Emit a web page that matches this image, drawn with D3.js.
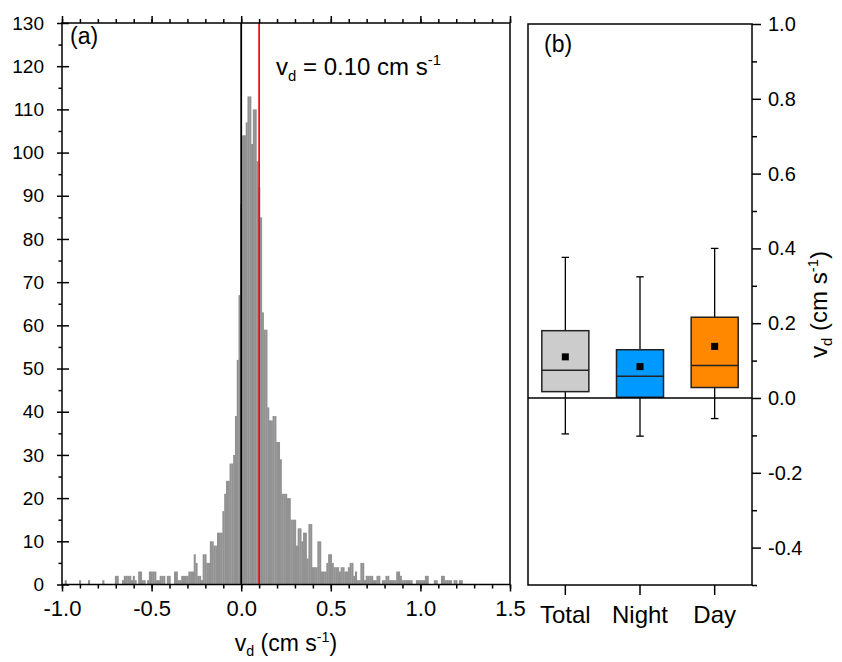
<!DOCTYPE html>
<html>
<head>
<meta charset="utf-8">
<script src="https://cdnjs.cloudflare.com/ajax/libs/d3/7.8.5/d3.min.js"></script>
<style>
	body { margin: 0; background: #fff; }
	text { font-family: "Liberation Sans", Arial, sans-serif; fill: #000; }
</style>
</head>
<body>
<script>

// histogram of v_d : 0.01 cm/s bins, first bin centred at -0.98
var bin_width = 0.01;
var bin_first = -0.98;
var bin_counts = [
	1,0,0,0,0,0,0,0,1,0,
	0,0,0,1,0,0,0,0,0,0,
	0,1,0,0,0,0,0,0,2,2,
	0,0,1,2,2,2,2,1,2,1,
	0,3,3,1,1,0,1,3,3,3,
	3,1,1,2,2,2,0,2,2,0,
	0,3,3,1,1,2,2,2,2,3,
	3,3,7,5,2,2,1,7,7,5,
	5,10,10,9,9,12,12,12,17,21,
	24,24,28,28,30,39,52,67,88,104,
	104,107,113,113,102,110,110,98,92,85,
	63,59,59,41,38,38,39,39,33,33,
	29,21,21,21,20,20,15,15,15,9,
	13,13,10,12,12,6,14,14,4,4,
	4,10,10,3,3,3,5,7,7,5,
	4,4,4,3,4,4,3,3,4,5,
	5,2,3,1,1,5,5,1,2,2,
	2,2,1,1,2,2,0,1,1,2,
	2,1,1,1,1,3,3,2,1,1,
	1,1,1,1,0,0,1,1,1,1,
	1,2,2,0,0,0,1,1,0,0,
	2,2,1,1,1,1,0,1,1,0,
	1,1
];
var vd_mean = 0.10;

// box plot (b)
var groups = ["Total", "Night", "Day"];
var whisker_low  = [-0.096, -0.102, -0.055];
var quart_low    = [0.017, 0.002, 0.028];
var medians      = [0.074, 0.058, 0.087];
var quart_high   = [0.180, 0.129, 0.216];
var whisker_high = [0.376, 0.324, 0.400];
var means        = [0.110, 0.084, 0.138];
var box_colours  = ["#cccccc", "#0099ff", "#ff8800"];

var x_ticks_a = [-1.0, -0.5, 0.0, 0.5, 1.0, 1.5];
var y_ticks_a = d3.range(0, 131, 10);
var y_ticks_b = [-0.4, -0.2, 0.0, 0.2, 0.4, 0.6, 0.8, 1.0];

var WIDTH = 842, HEIGHT = 662;
var pa = {left: 62, right: 510, top: 23, bottom: 584.5};
var pb = {left: 528, right: 752, top: 24, bottom: 585};
var BAR_GREY = "#929292";
var AXIS_W = 1.5;

var svg = d3.select("body").append("svg")
	.attr("width", WIDTH)
	.attr("height", HEIGHT);

svg.append("rect").attr("width", WIDTH).attr("height", HEIGHT).attr("fill", "#fff");

// write text with sub / superscripts
function rich(el, parts) {
	parts.forEach(function(p) {
		var t = el.append("tspan").attr("dy", p[1]).text(p[0]);
		if (p[2]) t.style("font-size", p[2]);
	});
	return el;
}
var VD_UNITS = [["v", 0], ["d", 5, "0.62em"], [" (cm s", -5], ["-1", -9, "0.62em"], [")", 9]];

function style_axis(g, size) {
	g.select(".domain").remove();
	g.selectAll("line").attr("stroke", "#000").attr("stroke-width", AXIS_W);
	g.selectAll("text").style("font-size", size + "px")
		.style("font-family", '"Liberation Sans", Arial, sans-serif');
}

// ---------------- panel (a) ----------------
var x = d3.scaleLinear().domain([-1, 1.5]).range([pa.left, pa.right]);
var y = d3.scaleLinear().domain([0, 130]).range([pa.bottom, pa.top]);

svg.append("g")
	.selectAll("rect")
	.data(bin_counts)
	.enter().append("rect")
	.attr("x", function(d, i) { return x(bin_first + i * bin_width - bin_width / 2); })
	.attr("width", x(bin_width) - x(0) + 0.3)
	.attr("y", function(d) { return y(d); })
	.attr("height", function(d) { return y(0) - y(d); })
	.attr("fill", BAR_GREY);

// zero and mean lines
svg.append("line")
	.attr("x1", x(0)).attr("x2", x(0))
	.attr("y1", y(0)).attr("y2", y(130))
	.attr("stroke", "#000").attr("stroke-width", 1.8);
svg.append("line")
	.attr("x1", x(vd_mean)).attr("x2", x(vd_mean))
	.attr("y1", y(0)).attr("y2", y(130))
	.attr("stroke", "#ff0000").attr("stroke-width", 1.7);

// bottom axis
var gx = svg.append("g")
	.attr("transform", "translate(0," + pa.bottom + ")")
	.call(d3.axisBottom(x).tickValues(x_ticks_a).tickSize(7).tickPadding(8.5)
		.tickFormat(function(d) { return d3.format(".1f")(d).replace("−", "-"); }));
style_axis(gx, 22);
var gxm = svg.append("g")
	.attr("transform", "translate(0," + pa.bottom + ")")
	.call(d3.axisBottom(x).tickValues(d3.range(-10, 16).map(function(d) { return d / 10; }))
		.tickSize(4).tickFormat(""));
style_axis(gxm, 10);

// top axis (mirror, no labels)
var gt = svg.append("g")
	.attr("transform", "translate(0," + pa.top + ")")
	.call(d3.axisTop(x).tickValues(x_ticks_a).tickSize(7).tickFormat(""));
style_axis(gt, 10);
var gtm = svg.append("g")
	.attr("transform", "translate(0," + pa.top + ")")
	.call(d3.axisTop(x).tickValues(d3.range(-10, 16).map(function(d) { return d / 10; }))
		.tickSize(4).tickFormat(""));
style_axis(gtm, 10);

// left axis, major ticks cross the axis line
var gy = svg.append("g")
	.attr("transform", "translate(" + pa.left + ",0)")
	.call(d3.axisLeft(y).tickValues(y_ticks_a).tickSize(5).tickPadding(13));
style_axis(gy, 19);
var gyi = svg.append("g")
	.attr("transform", "translate(" + pa.left + ",0)")
	.call(d3.axisRight(y).tickValues(y_ticks_a).tickSize(7).tickFormat(""));
style_axis(gyi, 10);
var gym = svg.append("g")
	.attr("transform", "translate(" + pa.left + ",0)")
	.call(d3.axisLeft(y).tickValues(d3.range(5, 130, 10)).tickSize(3.5).tickFormat(""));
style_axis(gym, 10);

svg.append("rect")
	.attr("x", pa.left).attr("y", pa.top)
	.attr("width", pa.right - pa.left).attr("height", pa.bottom - pa.top)
	.attr("fill", "none").attr("stroke", "#000").attr("stroke-width", AXIS_W);

svg.append("text").attr("x", 70).attr("y", 44).style("font-size", "23px").text("(a)");

rich(svg.append("text").attr("x", 276).attr("y", 75).style("font-size", "24px"),
	[["v", 0], ["d", 6, "0.62em"], [" = 0.10 cm s", -6], ["-1", -10, "0.62em"]]);

rich(svg.append("text")
	.attr("x", (pa.left + pa.right) / 2).attr("y", 651)
	.attr("text-anchor", "middle").style("font-size", "23px"), VD_UNITS);

// ---------------- panel (b) ----------------
var xb = d3.scaleBand().domain(groups).range([pb.left, pb.right]);
var yb = d3.scaleLinear().domain([-0.5, 1.0]).range([pb.bottom, pb.top]);
var box_w = xb.bandwidth() * 0.63;
var cap_w = 7.5;

var boxes = svg.append("g")
	.selectAll("g")
	.data(groups)
	.enter().append("g")
	.attr("transform", function(d) { return "translate(" + (xb(d) + xb.bandwidth() / 2) + ",0)"; });

boxes.append("line")
	.attr("y1", function(d, i) { return yb(whisker_low[i]); })
	.attr("y2", function(d, i) { return yb(whisker_high[i]); })
	.attr("stroke", "#000").attr("stroke-width", 1.3);
[whisker_low, whisker_high].forEach(function(arr) {
	boxes.append("line")
		.attr("x1", -cap_w / 2).attr("x2", cap_w / 2)
		.attr("y1", function(d, i) { return yb(arr[i]); })
		.attr("y2", function(d, i) { return yb(arr[i]); })
		.attr("stroke", "#000").attr("stroke-width", 1.3);
});
boxes.append("rect")
	.attr("x", -box_w / 2).attr("width", box_w)
	.attr("y", function(d, i) { return yb(quart_high[i]); })
	.attr("height", function(d, i) { return yb(quart_low[i]) - yb(quart_high[i]); })
	.attr("fill", function(d, i) { return box_colours[i]; })
	.attr("stroke", "#222").attr("stroke-width", 1.5);
boxes.append("line")
	.attr("x1", -box_w / 2).attr("x2", box_w / 2)
	.attr("y1", function(d, i) { return yb(medians[i]); })
	.attr("y2", function(d, i) { return yb(medians[i]); })
	.attr("stroke", "#222").attr("stroke-width", 1.5);
boxes.append("rect")
	.attr("x", -3.5).attr("width", 7).attr("height", 7)
	.attr("y", function(d, i) { return yb(means[i]) - 3.5; })
	.attr("fill", "#000");

// zero line
svg.append("line")
	.attr("x1", pb.left).attr("x2", pb.right)
	.attr("y1", yb(0)).attr("y2", yb(0))
	.attr("stroke", "#000").attr("stroke-width", AXIS_W);

svg.append("rect")
	.attr("x", pb.left).attr("y", pb.top)
	.attr("width", pb.right - pb.left).attr("height", pb.bottom - pb.top)
	.attr("fill", "none").attr("stroke", "#000").attr("stroke-width", AXIS_W);

var gbx = svg.append("g")
	.attr("transform", "translate(0," + pb.bottom + ")")
	.call(d3.axisBottom(xb).tickSize(10).tickPadding(11));
style_axis(gbx, 24);

var gby = svg.append("g")
	.attr("transform", "translate(" + pb.right + ",0)")
	.call(d3.axisRight(yb).tickValues(y_ticks_b).tickSize(9).tickPadding(7)
		.tickFormat(function(d) { return d3.format(".1f")(d).replace("−", "-"); }));
style_axis(gby, 20);
var gbym = svg.append("g")
	.attr("transform", "translate(" + pb.right + ",0)")
	.call(d3.axisRight(yb).tickValues([-0.5, -0.3, -0.1, 0.1, 0.3, 0.5, 0.7, 0.9]).tickSize(5).tickFormat(""));
style_axis(gbym, 10);

svg.append("text").attr("x", 544).attr("y", 52).style("font-size", "23px").text("(b)");

rich(svg.append("text")
	.attr("transform", "translate(827," + (pb.top + pb.bottom) / 2 + ") rotate(-90)")
	.attr("text-anchor", "middle").style("font-size", "24px"), VD_UNITS);

</script>
</body>
</html>
